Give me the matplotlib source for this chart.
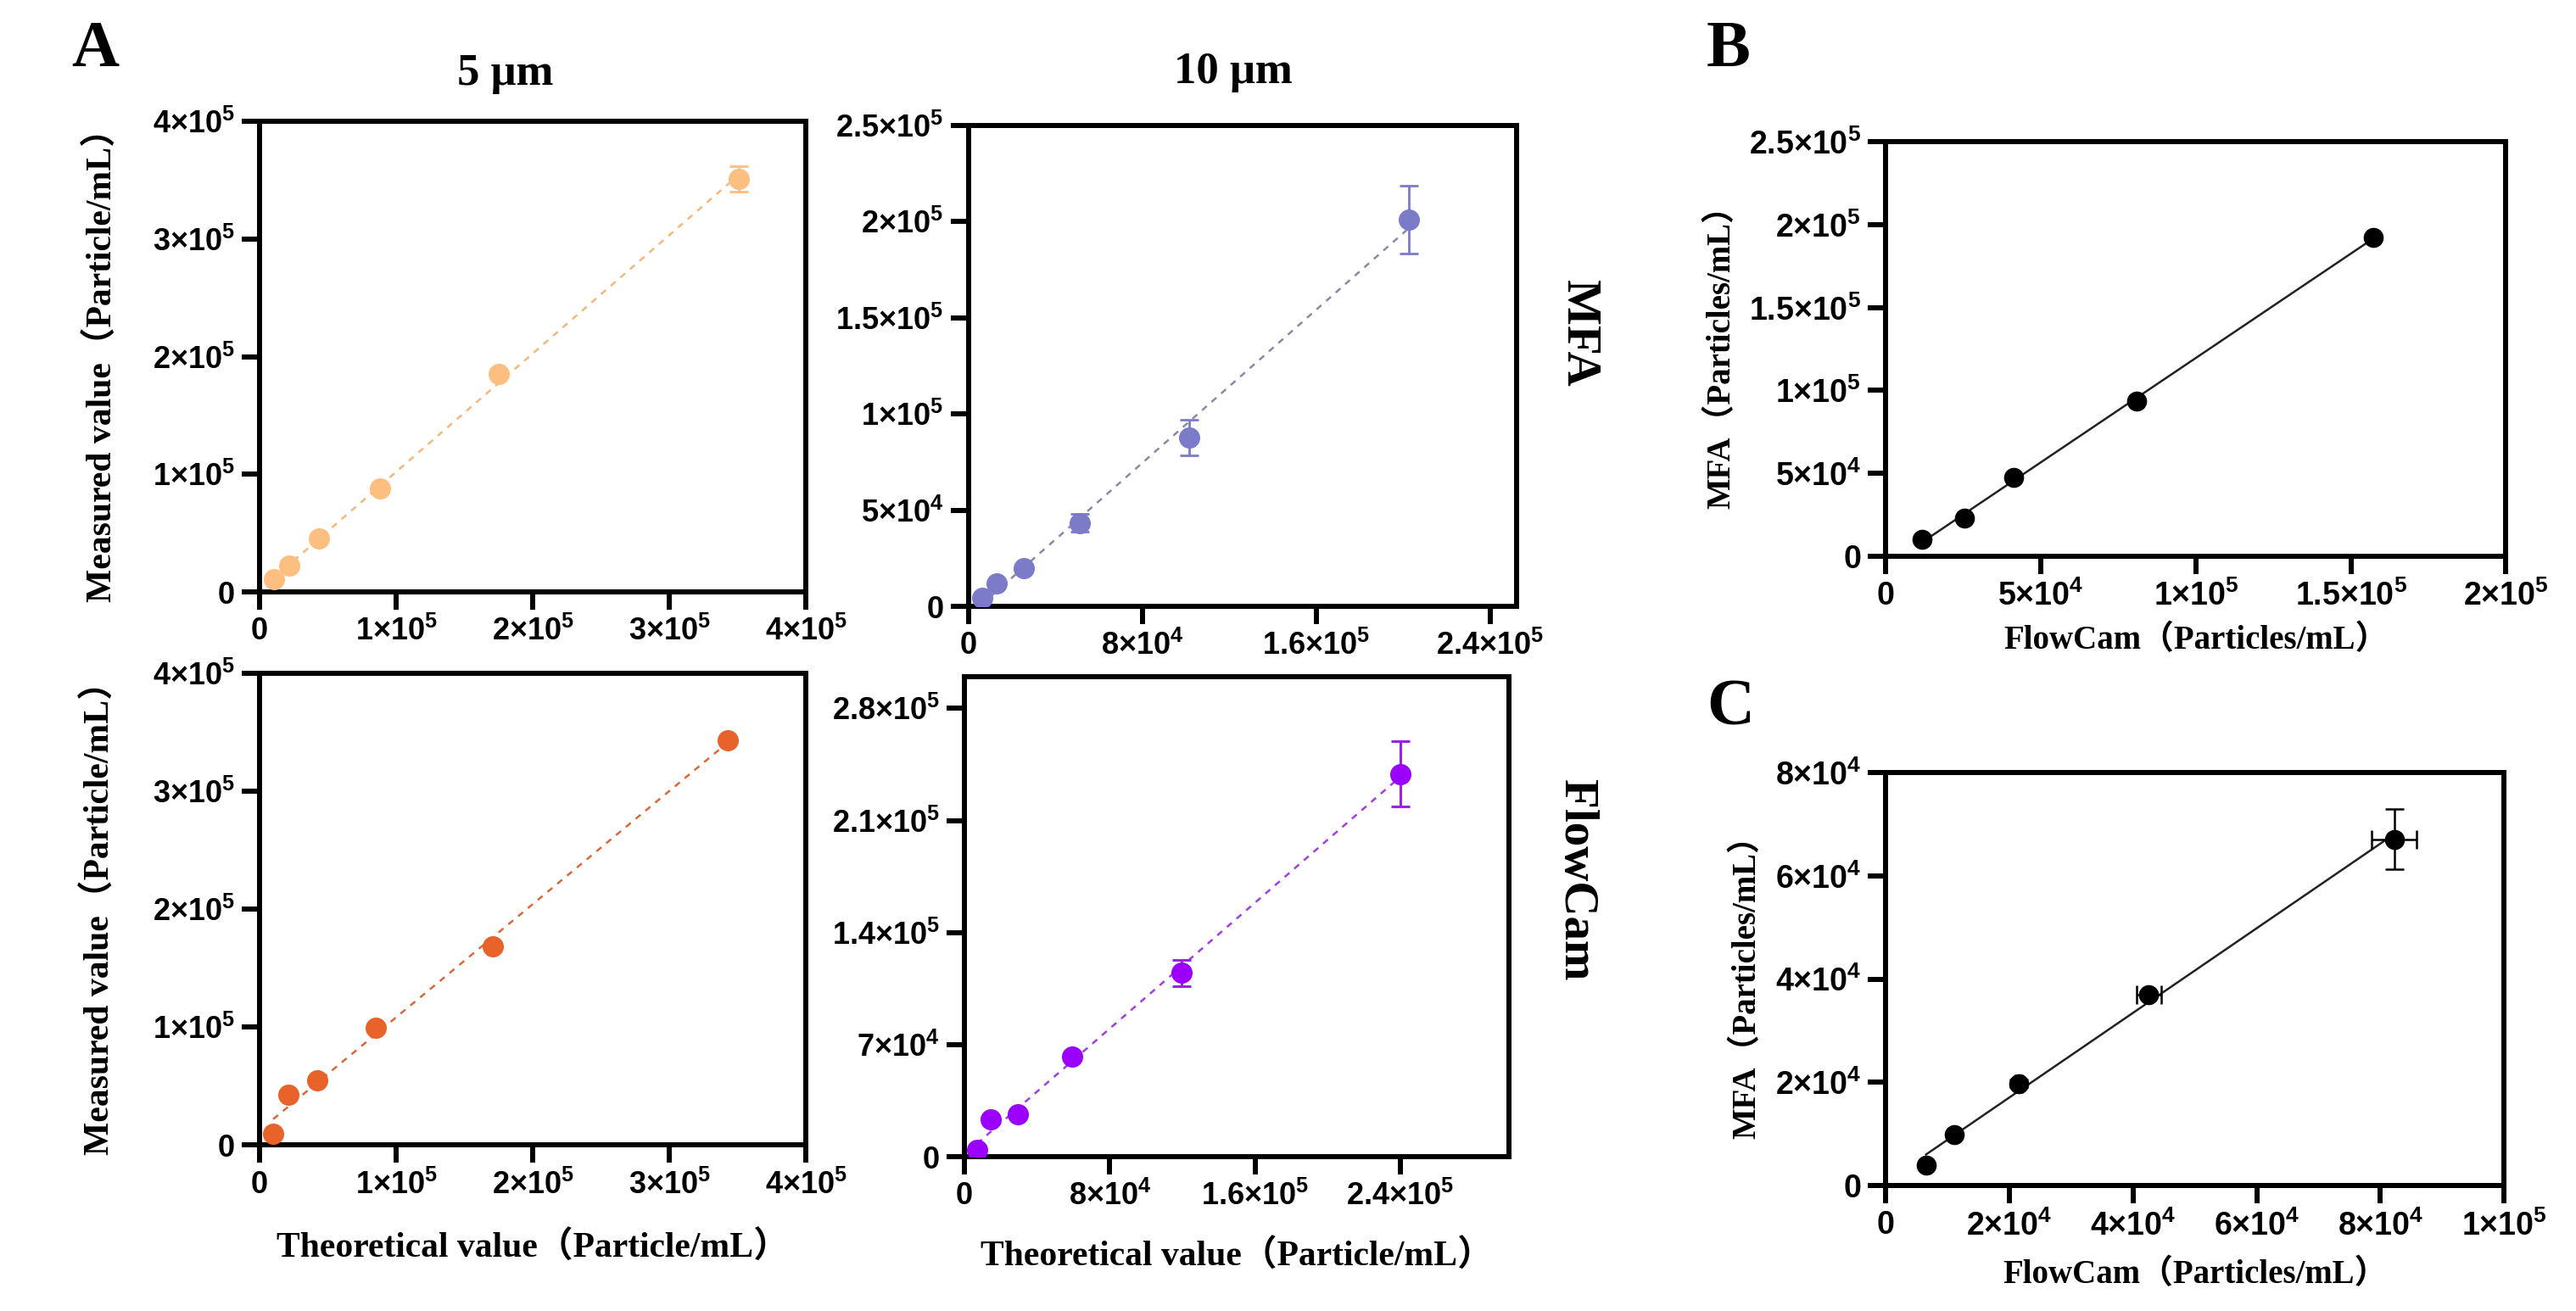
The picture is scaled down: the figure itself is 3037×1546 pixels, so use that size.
import numpy as np
import matplotlib
matplotlib.use("Agg")
import matplotlib.pyplot as plt
from matplotlib.ticker import FuncFormatter

# ---- data ----
# A, 5 um, MFA
x_5_mfa = [1.07e4, 2.18e4, 4.36e4, 8.79e4, 1.75e5, 3.505e5]
y_5_mfa = [1.05e4, 2.27e4, 4.54e4, 8.80e4, 1.85e5, 3.51e5]
e_5_mfa = [0, 0, 0, 0, 0, 1.1e4]
# A, 10 um, MFA
x_10_mfa = [6.5e3, 1.32e4, 2.56e4, 5.12e4, 1.014e5, 2.025e5]
y_10_mfa = [4.3e3, 1.18e4, 1.99e4, 4.34e4, 8.76e4, 2.009e5]
e_10_mfa = [0, 0, 0, 4.7e3, 9.2e3, 1.75e4]
# A, 5 um, FlowCam
x_5_fc = [9.9e3, 2.1e4, 4.2e4, 8.53e4, 1.706e5, 3.43e5]
y_5_fc = [1.0e4, 4.3e4, 5.5e4, 9.95e4, 1.686e5, 3.434e5]
# A, 10 um, FlowCam
x_10_fc = [6.9e3, 1.44e4, 2.96e4, 5.93e4, 1.197e5, 2.40e5]
y_10_fc = [4.5e3, 2.31e4, 2.65e4, 6.24e4, 1.147e5, 2.389e5]
e_10_fc = [0, 0, 0, 0, 8e3, 2.04e4]
# B
x_b = [1.16e4, 2.54e4, 4.11e4, 8.1e4, 1.571e5]
y_b = [9.9e3, 2.3e4, 4.76e4, 9.35e4, 1.924e5]
# C
x_c = [6.5e3, 1.11e4, 2.15e4, 4.25e4, 8.22e4]
y_c = [4.0e3, 9.9e3, 1.98e4, 3.69e4, 6.71e4]
xe_c = [0, 0, 500, 2.0e3, 3.7e3]
ye_c = [0, 0, 800, 500, 5.8e3]

SERIF = ['Liberation Serif', 'Noto Sans CJK SC', 'DejaVu Sans']
plt.rcParams['mathtext.fontset'] = 'custom'
plt.rcParams['mathtext.rm'] = 'Liberation Sans:bold'
plt.rcParams['mathtext.it'] = 'Liberation Sans:bold'
plt.rcParams['mathtext.bf'] = 'Liberation Sans:bold'
plt.rcParams['font.family'] = 'Liberation Sans'
plt.rcParams['font.weight'] = 'bold'


def sci(v, pos):
    if v == 0:
        return '0'
    e = int(np.floor(np.log10(abs(v)) + 1e-9))
    m = v / 10**e
    ms = ('%.1f' % m).rstrip('0').rstrip('.')
    return r'$%s{\times}10^{%d}$' % (ms, e)


def style(ax, xt, yt, xlim, ylim, tsize):
    ax.set_xlim(*xlim)
    ax.set_ylim(*ylim)
    ax.set_xticks(xt)
    ax.set_yticks(yt)
    ax.xaxis.set_major_formatter(FuncFormatter(sci))
    ax.yaxis.set_major_formatter(FuncFormatter(sci))
    for s in ax.spines.values():
        s.set_linewidth(4.3)
    ax.tick_params(direction='out', length=15, width=4.3, labelsize=tsize, pad=6)


def fitline(ax, x, y, color, ls):
    k, b = np.polyfit(x, y, 1)
    xx = np.array([min(x), max(x)])
    ax.plot(xx, k * xx + b, color=color, ls=ls, lw=1.8, zorder=2)


def ylab(ax, text, xpos, size):
    ax.set_ylabel(text, family=SERIF, fontweight='bold', fontsize=size, va='center')
    ax.yaxis.set_label_coords(xpos, 0.5)


def xlab(ax, text, ypos, size):
    ax.set_xlabel(text, family=SERIF, fontweight='bold', fontsize=size, va='center')
    ax.xaxis.set_label_coords(0.5, ypos)


fig = plt.figure(figsize=(30.37, 15.46), dpi=100)

# --- A top-left: 5 um MFA
ax1 = fig.add_axes([0.1008, 0.5485, 0.2121, 0.359])
fitline(ax1, x_5_mfa, y_5_mfa, '#F6B77A', (0, (3, 3)))
ax1.errorbar(x_5_mfa, y_5_mfa, yerr=e_5_mfa, fmt='o', ms=17, color='#FDBF80',
             ecolor='#FDBF80', elinewidth=2, capsize=8, capthick=2, zorder=3)
style(ax1, np.arange(0, 4.01e5, 1e5), np.arange(0, 4.01e5, 1e5), (0, 4e5), (0, 4e5), 26)
ylab(ax1, 'Measured value（Particle/mL）', -0.287, 30)

# --- A top-right: 10 um MFA
ax2 = fig.add_axes([0.3759, 0.5375, 0.2127, 0.3669])
fitline(ax2, x_10_mfa, y_10_mfa, '#8A8AA8', (0, (3, 3)))
ax2.errorbar(x_10_mfa, y_10_mfa, yerr=e_10_mfa, fmt='o', ms=17, color='#7B7BC9',
             ecolor='#7B7BC9', elinewidth=2, capsize=8, capthick=2, zorder=3)
style(ax2, [0, 8e4, 1.6e5, 2.4e5], np.arange(0, 2.51e5, 5e4), (0, 2.52e5), (0, 2.5e5), 26)

# --- A bottom-left: 5 um FlowCam
ax3 = fig.add_axes([0.1008, 0.1265, 0.2121, 0.36])
fitline(ax3, x_5_fc, y_5_fc, '#D9693A', (0, (3, 3)))
ax3.plot(x_5_fc, y_5_fc, 'o', ms=17, color='#E8632A', zorder=3)
style(ax3, np.arange(0, 4.01e5, 1e5), np.arange(0, 4.01e5, 1e5), (0, 4e5), (0, 4e5), 26)
ylab(ax3, 'Measured value（Particle/mL）', -0.292, 30)
xlab(ax3, 'Theoretical value（Particle/mL）', -0.218, 30)

# --- A bottom-right: 10 um FlowCam
ax4 = fig.add_axes([0.3744, 0.1177, 0.2115, 0.3664])
fitline(ax4, x_10_fc, y_10_fc, '#A040E0', (0, (3, 3)))
ax4.errorbar(x_10_fc, y_10_fc, yerr=e_10_fc, fmt='o', ms=17, color='#9B00FF',
             ecolor='#9B22E0', elinewidth=2.2, capsize=8, capthick=2.2, zorder=3)
style(ax4, [0, 8e4, 1.6e5, 2.4e5], np.arange(0, 2.81e5, 7e4), (0, 3e5), (0, 3e5), 26)
xlab(ax4, 'Theoretical value（Particle/mL）', -0.208, 30)

# --- B
axb = fig.add_axes([0.7321, 0.5759, 0.2407, 0.3158])
fitline(axb, x_b, y_b, '#222222', '-')
axb.plot(x_b, y_b, 'o', ms=16, color='black', zorder=3)
style(axb, np.arange(0, 2.01e5, 5e4), np.arange(0, 2.51e5, 5e4), (0, 2e5), (0, 2.5e5), 27)
ylab(axb, 'MFA（Particles/mL）', -0.265, 28)
xlab(axb, 'FlowCam（Particles/mL）', -0.204, 28)

# --- C
axc = fig.add_axes([0.7321, 0.0957, 0.24, 0.315])
fitline(axc, x_c, y_c, '#222222', '-')
axc.errorbar(x_c, y_c, xerr=xe_c, yerr=ye_c, fmt='o', ms=16, color='black',
             ecolor='black', elinewidth=1.8, capsize=8, capthick=1.8, zorder=3)
style(axc, np.arange(0, 1.01e5, 2e4), np.arange(0, 8.01e4, 2e4), (0, 1e5), (0, 8e4), 27)
ylab(axc, 'MFA（Particles/mL）', -0.225, 28)
xlab(axc, 'FlowCam（Particles/mL）', -0.216, 28)

# --- titles and panel letters
fig.text(596 / 3037, 1 - 87 / 1546, '5 μm', family=SERIF, fontweight='bold',
         fontsize=38, ha='center', va='center')
fig.text(1454 / 3037, 1 - 85 / 1546, '10 μm', family=SERIF, fontweight='bold',
         fontsize=38, ha='center', va='center')
fig.text(1861 / 3037, 1 - 393 / 1546, 'MFA', family=SERIF, fontweight='bold',
         fontsize=41, rotation=270, ha='center', va='center')
fig.text(1858 / 3037, 1 - 1038 / 1546, 'FlowCam', family=SERIF, fontweight='bold',
         fontsize=41, rotation=270, ha='center', va='center')
for letter, px, py in [('A', 112, 59), ('B', 2038, 60), ('C', 2040, 836)]:
    fig.text(px / 3037, 1 - py / 1546, letter, family=SERIF, fontweight='bold',
             fontsize=56, ha='center', va='center')

fig.savefig('out.png', dpi=100, facecolor='white')
